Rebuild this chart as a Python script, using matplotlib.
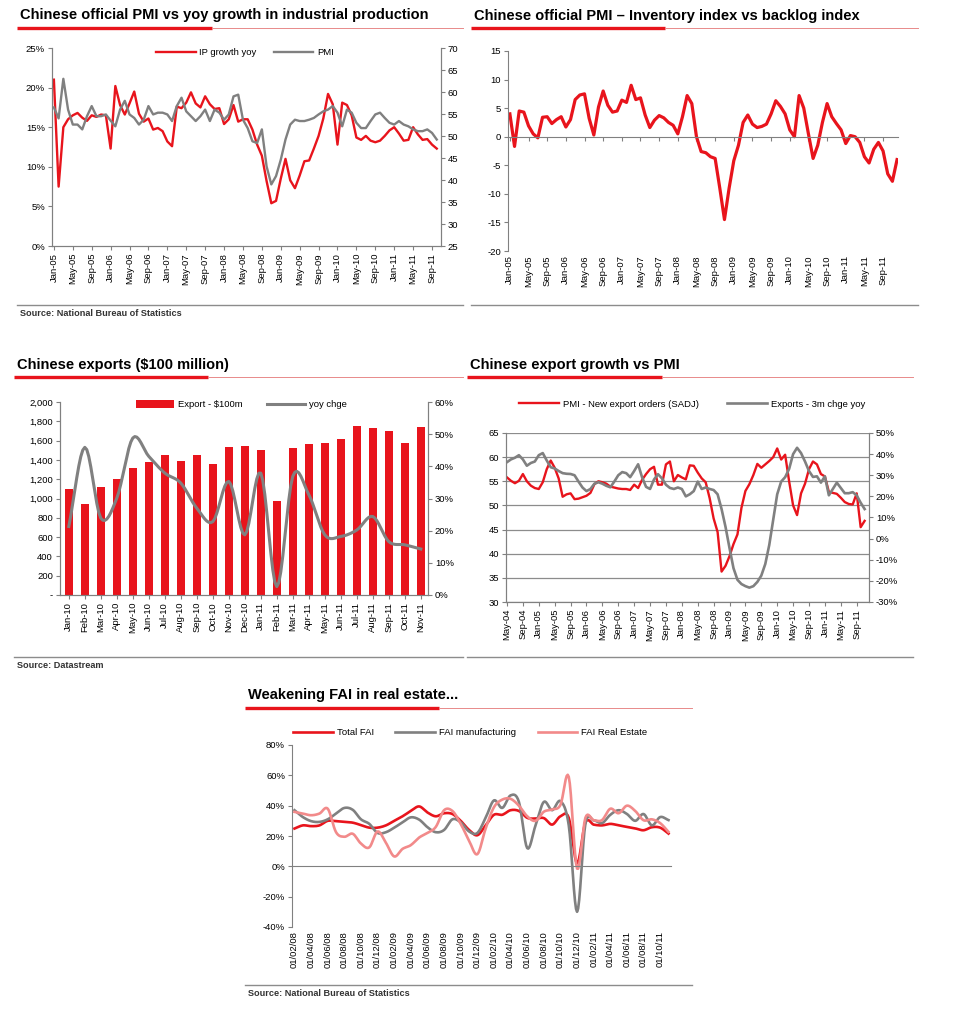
import numpy as np
import matplotlib.pyplot as plt
from matplotlib.ticker import FuncFormatter

plt.rcParams['font.family'] = ['Liberation Sans', 'DejaVu Sans']
plt.rcParams['axes.unicode_minus'] = False

RED = '#e8141c'
GREY = '#808080'
PINK = '#f28a8a'
THIN = '#e88a8a'
W, H = 969, 1031

# ---- chart 1: PMI vs IP growth, monthly Jan-05 .. Oct-11
ip_growth = [21.0, 7.5, 15.0, 16.0, 16.5, 16.8, 16.2, 15.8, 16.5, 16.3, 16.6, 16.5,
             12.3, 20.2, 17.8, 16.6, 18.0, 19.5, 16.7, 15.7, 16.1, 14.7, 14.9, 14.5,
             13.2, 12.6, 17.6, 17.4, 18.1, 19.4, 18.0, 17.5, 18.9, 17.9, 17.3, 17.4,
             15.4, 16.0, 17.8, 15.7, 16.0, 16.0, 14.7, 12.8, 11.4, 8.2, 5.4, 5.7,
             8.5, 11.0, 8.3, 7.3, 8.9, 10.7, 10.8, 12.3, 13.9, 16.1, 19.2, 17.9,
             12.8, 18.1, 17.8, 16.5, 13.7, 13.4, 13.9, 13.3, 13.1, 13.3, 13.9, 14.6,
             15.0, 14.2, 13.3, 13.4, 15.0, 14.1, 13.4, 13.5, 12.8, 12.3]
pmi = [56.5, 54.0, 63.0, 56.0, 52.6, 52.6, 51.5, 54.5, 56.8, 54.5, 54.5, 54.9,
       53.5, 52.2, 56.0, 58.0, 54.9, 54.1, 52.6, 53.7, 56.8, 54.9, 55.3, 55.3,
       54.9, 53.4, 56.8, 58.7, 55.6, 54.5, 53.4, 54.5, 56.0, 53.4, 56.0, 55.3,
       53.7, 54.9, 59.0, 59.4, 53.7, 51.8, 48.8, 48.4, 51.5, 43.1, 39.0, 40.9,
       44.6, 49.2, 52.6, 53.7, 53.4, 53.4, 53.7, 54.1, 54.9, 55.6, 56.0, 56.8,
       55.3, 52.2, 56.0, 55.3, 53.0, 51.8, 51.8, 53.4, 54.9, 55.3, 54.1, 53.0,
       52.6, 53.4, 52.6, 52.2, 51.5, 51.1, 51.1, 51.5, 50.7, 49.2]
labels_0511 = ['Jan-05', 'May-05', 'Sep-05', 'Jan-06', 'May-06', 'Sep-06', 'Jan-07',
               'May-07', 'Sep-07', 'Jan-08', 'May-08', 'Sep-08', 'Jan-09', 'May-09',
               'Sep-09', 'Jan-10', 'May-10', 'Sep-10', 'Jan-11', 'May-11', 'Sep-11']

# ---- chart 2: inventory index vs backlog index, Jan-05 .. Dec-11
inv_backlog = [4.0, -1.7, 4.5, 4.3, 1.9, 0.5, -0.2, 3.4, 3.5, 2.3, 3.0, 3.5,
               1.7, 3.0, 6.5, 7.3, 7.5, 3.2, 0.3, 5.2, 8.0, 5.5, 4.3, 4.5,
               6.4, 6.0, 9.0, 6.5, 6.8, 3.8, 1.6, 2.9, 3.7, 3.3, 2.5, 2.0,
               0.5, 3.5, 7.2, 5.8, 0.0, -2.6, -2.8, -3.5, -3.8, -9.0, -14.5, -9.0,
               -4.2, -1.5, 2.5, 3.8, 2.2, 1.6, 1.8, 2.2, 4.0, 6.3, 5.3, 4.0,
               1.2, 0.0, 7.2, 5.0, 0.5, -3.8, -1.5, 2.5, 5.8, 3.5, 2.3, 1.2,
               -1.2, 0.2, 0.0, -1.0, -3.5, -4.6, -2.2, -1.0, -2.5, -6.5, -7.8, -4.0]

# ---- chart 3: exports Jan-10 .. Nov-11
exp_months = ['Jan-10', 'Feb-10', 'Mar-10', 'Apr-10', 'May-10', 'Jun-10', 'Jul-10',
              'Aug-10', 'Sep-10', 'Oct-10', 'Nov-10', 'Dec-10', 'Jan-11', 'Feb-11',
              'Mar-11', 'Apr-11', 'May-11', 'Jun-11', 'Jul-11', 'Aug-11', 'Sep-11',
              'Oct-11', 'Nov-11']
exports = [1095, 945, 1120, 1200, 1315, 1375, 1455, 1393, 1450, 1360, 1530, 1545,
           1505, 975, 1520, 1560, 1570, 1620, 1750, 1735, 1695, 1575, 1745]
exp_yoy = [21.3, 45.9, 23.9, 30.1, 48.8, 43.1, 37.9, 34.8, 27.0, 22.8, 35.3, 18.7,
           37.9, 2.6, 36.9, 31.2, 18.7, 18.2, 20.2, 24.4, 16.6, 15.6, 14.3]

# ---- chart 4: export growth vs PMI, May-04 .. Nov-11
pmi_exp_orders = [55.8, 55.1, 54.6, 55.1, 56.5, 55.0, 54.1, 53.6, 53.4, 54.8, 57.5, 59.3,
                  57.8, 55.6, 51.8, 52.3, 52.5, 51.3, 51.4, 51.7, 52.0, 52.6, 54.4, 55.0,
                  54.8, 54.5, 53.9, 53.7, 53.5, 53.4, 53.4, 53.2, 54.3, 53.6, 55.3, 56.5,
                  57.5, 58.0, 54.3, 54.3, 58.5, 59.1, 55.0, 56.3, 55.8, 55.4, 58.3, 58.2,
                  56.8, 55.6, 54.8, 51.5, 47.3, 44.5, 36.3, 37.5, 39.5, 42.0, 44.0, 49.5,
                  53.0, 54.4, 56.3, 58.6, 57.8, 58.5, 59.2, 60.0, 61.8, 59.5, 60.5, 55.0,
                  50.0, 48.0, 52.5, 54.5, 57.5, 59.1, 58.5, 56.5, 56.0, 52.8, 52.6, 52.4,
                  51.6, 50.7, 50.3, 50.2, 52.5, 45.5, 46.8]
exports_3m = [36.2, 37.5, 38.3, 39.5, 37.5, 34.5, 35.8, 36.5, 39.5, 40.5, 37.0, 33.8,
              33.2, 32.0, 31.0, 30.7, 30.6, 30.0, 27.0, 24.2, 22.5, 23.5, 26.0, 26.7,
              26.0, 25.0, 24.3, 27.0, 30.0, 31.5, 31.0, 29.1, 32.0, 35.2, 29.0, 24.5,
              23.5, 28.0, 30.5, 28.5, 25.5, 24.0, 23.5, 24.2, 23.5, 20.0, 21.0, 22.5,
              27.0, 23.5, 24.2, 23.5, 23.0, 21.0, 14.0, 5.5, -4.5, -14.0, -19.5, -21.5,
              -22.5, -23.2, -22.5, -20.5, -17.5, -12.0, -3.0, 9.0, 21.0, 27.0, 29.1, 33.0,
              40.0, 43.0, 40.5, 36.5, 32.0, 29.2, 29.5, 26.5, 29.5, 20.5, 23.5, 26.5,
              24.0, 21.5, 21.5, 22.0, 20.5, 17.0, 14.0]
labels_0411 = ['May-04', 'Sep-04', 'Jan-05', 'May-05', 'Sep-05', 'Jan-06', 'May-06',
               'Sep-06', 'Jan-07', 'May-07', 'Sep-07', 'Jan-08', 'May-08', 'Sep-08',
               'Jan-09', 'May-09', 'Sep-09', 'Jan-10', 'May-10', 'Sep-10', 'Jan-11',
               'May-11', 'Sep-11']

# ---- chart 5: FAI, Feb-08 .. Nov-11
fai_total = [24.9, 27.0, 26.5, 27.0, 30.0, 29.8, 29.3, 28.8, 27.2, 25.5, 25.5, 27.0,
             30.0, 33.0, 36.5, 39.5, 35.5, 33.0, 35.0, 34.5, 30.0, 24.0, 20.5, 27.0,
             34.0, 34.0, 37.0, 36.5, 32.0, 31.5, 31.8, 27.5, 33.0, 32.0, 2.0, 29.0,
             27.5, 27.0, 28.0, 27.0, 26.0, 25.0, 23.8, 25.8, 25.5, 21.6]
fai_manuf = [37.0, 32.5, 29.8, 29.3, 31.0, 34.8, 38.5, 37.3, 31.0, 28.0, 22.0, 22.5,
             25.5, 29.0, 32.3, 30.8, 25.8, 22.5, 24.0, 31.0, 29.0, 23.0, 22.0, 32.0,
             43.5, 38.5, 46.8, 42.5, 12.0, 27.0, 42.5, 37.0, 43.0, 27.0, -30.0, 28.0,
             30.3, 28.5, 34.0, 37.0, 34.5, 30.0, 34.5, 27.0, 32.5, 30.5]
fai_realestate = [35.9, 34.8, 33.7, 34.8, 38.0, 22.5, 19.5, 21.5, 15.0, 12.5, 23.0, 15.5,
                  6.5, 11.5, 14.0, 19.0, 22.0, 26.0, 37.0, 36.5, 28.0, 17.0, 8.0, 25.0,
                  39.0, 44.0, 44.5, 40.0, 33.0, 30.0, 36.0, 37.5, 40.5, 59.0, -1.5, 32.0,
                  30.4, 30.5, 38.0, 35.0, 40.0, 36.5, 30.4, 31.0, 28.5, 22.7]
labels_fai = ['01/02/08', '01/04/08', '01/06/08', '01/08/08', '01/10/08', '01/12/08',
              '01/02/09', '01/04/09', '01/06/09', '01/08/09', '01/10/09', '01/12/09',
              '01/02/10', '01/04/10', '01/06/10', '01/08/10', '01/10/10', '01/12/10',
              '01/02/11', '01/04/11', '01/06/11', '01/08/11', '01/10/11']

TICK_FS = 6.8


def box(l, t, r, b):
    return [l / W, 1 - b / H, (r - l) / W, (b - t) / H]


def smooth(y, n=8):
    # Catmull-Rom curve through the points, like a "smoothed line" in Excel
    y = np.asarray(y, float)
    x = np.arange(len(y))
    p = np.concatenate([[2 * y[0] - y[1]], y, [2 * y[-1] - y[-2]]])
    xs, ys = [], []
    for i in range(len(y) - 1):
        t = np.linspace(0, 1, n, endpoint=False)
        p0, p1, p2, p3 = p[i], p[i + 1], p[i + 2], p[i + 3]
        ys.append(0.5 * (2 * p1 + (-p0 + p2) * t + (2 * p0 - 5 * p1 + 4 * p2 - p3) * t ** 2
                         + (-p0 + 3 * p1 - 3 * p2 + p3) * t ** 3))
        xs.append(x[i] + t)
    xs.append([x[-1]])
    ys.append([y[-1]])
    return np.concatenate(xs), np.concatenate(ys)


def style(ax, sides=('left', 'bottom')):
    for s in ax.spines:
        ax.spines[s].set_visible(s in sides)
        ax.spines[s].set_color(GREY)
    ax.tick_params(labelsize=TICK_FS, color=GREY, length=3, width=0.8, pad=2)
    ax.set_facecolor('none')


fig = plt.figure(figsize=(9.69, 10.31), dpi=100)
ov = fig.add_axes([0, 0, 1, 1])
ov.set_xlim(0, W)
ov.set_ylim(H, 0)
ov.axis('off')


def header(x0, xs, x1, y, title):
    ov.text(x0 + 3, y - 12, title, fontsize=10.5, fontweight='bold', va='center', ha='left')
    ov.plot([x0, xs], [y, y], color=RED, lw=2.4, solid_capstyle='butt')
    ov.plot([xs, x1], [y, y], color=THIN, lw=0.7)


def footer(x0, x1, y, src=None):
    ov.plot([x0, x1], [y, y], color='#8c8c8c', lw=1.0)
    if src:
        ov.text(x0 + 3, y + 9, src, fontsize=6.6, fontweight='bold', va='center',
                color='#333333')


header(17, 212, 463, 27.5, 'Chinese official PMI vs yoy growth in industrial production')
header(471, 665, 918, 28, 'Chinese official PMI \u2013 Inventory index vs backlog index')
header(14, 208, 463, 377, 'Chinese exports ($100 million)')
header(467, 662, 913, 377, 'Chinese export growth vs PMI')
header(245, 439, 692, 707.5, 'Weakening FAI in real estate...')
footer(17, 463, 305, 'Source: National Bureau of Statistics')
footer(471, 918, 305)
footer(14, 463, 657, 'Source: Datastream')
footer(467, 913, 657)
footer(245, 692, 985, 'Source: National Bureau of Statistics')

# ================= chart 1
x1 = np.arange(len(ip_growth))
a1 = fig.add_axes(box(52, 48, 441, 246))
style(a1, ('left', 'bottom', 'right'))
a1r = a1.twinx()
style(a1r, ('left', 'bottom', 'right'))
l1, = a1.plot(x1, ip_growth, color=RED, lw=1.7, label='IP growth yoy')
l2, = a1r.plot(x1, pmi, color=GREY, lw=1.7, label='PMI')
a1.set_xlim(-0.4, 81.9)
a1.set_ylim(0, 25)
a1.set_yticks(np.arange(0, 26, 5))
a1.yaxis.set_major_formatter(FuncFormatter(lambda v, p: f'{v:.0f}%'))
a1r.set_ylim(25, 70)
a1r.set_yticks(np.arange(25, 71, 5))
a1.set_xticks(x1[::4], labels=labels_0511, rotation=90)
a1.legend(handles=[l1, l2], loc='center', bbox_to_anchor=(0.496, 0.975), ncol=2,
          frameon=False, fontsize=TICK_FS, handlelength=4.2, columnspacing=1.8,
          handletextpad=0.4)

# ================= chart 2
x2 = np.arange(len(inv_backlog))
a2 = fig.add_axes(box(508, 51, 898, 251))
style(a2, ('left', 'bottom'))
a2.plot(x2, inv_backlog, color=RED, lw=2.3, solid_joinstyle='round')
a2.set_xlim(-0.4, 83.2)
a2.set_ylim(-20, 15)
a2.set_yticks(np.arange(-20, 16, 5))
a2.spines['bottom'].set_position(('data', 0))
a2.set_xticks(x2[:81:4])
a2.tick_params(axis='x', labelbottom=False, length=3)
sec2 = a2.secondary_xaxis(0.0)
sec2.set_xticks(x2[:81:4], labels=labels_0511, rotation=90)
sec2.tick_params(length=0, labelsize=TICK_FS, pad=3)
sec2.spines['bottom'].set_visible(False)

# ================= chart 3
x3 = np.arange(len(exports))
a3 = fig.add_axes(box(60, 402, 428, 595))
style(a3, ('left', 'bottom', 'right'))
a3r = a3.twinx()
style(a3r, ('left', 'bottom', 'right'))
b3 = a3.bar(x3, exports, width=0.52, color=RED, label='Export - $100m')
sx, sy = smooth(exp_yoy)
l3, = a3r.plot(sx, sy, color=GREY, lw=2.2, label='yoy chge')
a3.set_xlim(-0.55, 22.45)
a3.set_ylim(0, 2000)
a3.set_yticks(np.arange(0, 2001, 200))
a3.yaxis.set_major_formatter(FuncFormatter(lambda v, p: '-' if v == 0 else f'{v:,.0f}'))
a3r.set_ylim(0, 60)
a3r.set_yticks(np.arange(0, 61, 10))
a3r.yaxis.set_major_formatter(FuncFormatter(lambda v, p: f'{v:.0f}%'))
a3.set_xticks(x3, labels=exp_months, rotation=90)
a3.legend(handles=[b3, l3], loc='center', bbox_to_anchor=(0.493, 0.985), ncol=2,
          frameon=False, fontsize=TICK_FS, handlelength=4.0, handleheight=0.9,
          columnspacing=2.6, handletextpad=0.4)

# ================= chart 4
x4 = np.arange(len(pmi_exp_orders))
a4 = fig.add_axes(box(506, 433, 869, 602))
style(a4, ('left', 'bottom', 'right'))
a4.yaxis.grid(True, color='#8c8c8c', lw=0.9)
a4.set_axisbelow(True)
a4r = a4.twinx()
style(a4r, ('left', 'bottom', 'right'))
l4, = a4.plot(x4, pmi_exp_orders, color=RED, lw=1.7, label='PMI - New export orders (SADJ)')
l5, = a4r.plot(x4, exports_3m, color=GREY, lw=1.9, label='Exports - 3m chge yoy')
a4.set_xlim(-0.25, 91.1)
a4.set_ylim(30, 65)
a4.set_yticks(np.arange(30, 66, 5))
a4r.set_ylim(-30, 50)
a4r.set_yticks(np.arange(-30, 51, 10))
a4r.yaxis.set_major_formatter(FuncFormatter(lambda v, p: f'{v:.0f}%'))
a4.set_xticks(x4[:89:4], labels=labels_0411, rotation=90)
a4.legend(handles=[l4, l5], loc='center', bbox_to_anchor=(0.513, 1.17), ncol=2,
          frameon=False, fontsize=TICK_FS, handlelength=4.2, columnspacing=3.0,
          handletextpad=0.4)

# ================= chart 5
x5 = np.arange(len(fai_total))
a5 = fig.add_axes(box(292, 745, 671, 927))
style(a5, ('left', 'bottom'))
for vals, col, lab in [(fai_total, RED, 'Total FAI'), (fai_manuf, GREY, 'FAI manufacturing'),
                       (fai_realestate, PINK, 'FAI Real Estate')]:
    sx, sy = smooth(vals)
    a5.plot(sx, sy, color=col, lw=1.9, label=lab)
a5.set_xlim(-0.3, 45.3)
a5.set_ylim(-40, 80)
a5.set_yticks(np.arange(-40, 81, 20))
a5.yaxis.set_major_formatter(FuncFormatter(lambda v, p: f'{v:.0f}%'))
a5.spines['bottom'].set_position(('data', 0))
a5.set_xticks(x5[:45:2])
a5.tick_params(axis='x', labelbottom=False, length=0)
sec5 = a5.secondary_xaxis(0.0)
sec5.set_xticks(x5[:45:2], labels=labels_fai, rotation=90)
sec5.tick_params(length=0, labelsize=TICK_FS, pad=3)
sec5.spines['bottom'].set_visible(False)
a5.legend(loc='center', bbox_to_anchor=(0.47, 1.066), ncol=3, frameon=False,
          fontsize=TICK_FS, handlelength=4.2, columnspacing=2.3, handletextpad=0.4)

fig.savefig('out.png', dpi=100, facecolor='white')
